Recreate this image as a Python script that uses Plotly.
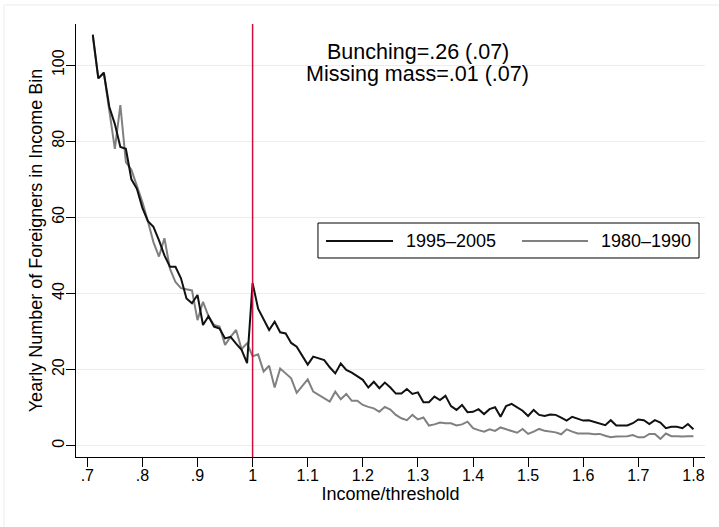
import plotly.graph_objects as go

# ---------------- data ----------------
income_bins = [round(0.71 + 0.01 * i, 2) for i in range(110)]

series_1995_2005 = [
    108, 96.5, 98, 89, 84.5, 78.5, 78, 70, 67.5, 62.5,
    59, 57.5, 54, 50, 47, 47, 44, 38.7, 37.4, 39.6,
    31.7, 34, 31.3, 30.8, 28.2, 28.6, 26.8, 25.2, 21.7,
    42.7, 36, 33, 30.4, 32.6, 29.8, 29.5, 27, 26, 23.5,
    21.3, 23.4, 23, 22.5, 20.6, 19, 21.6, 19.9, 19.2, 18.3,
    17.3, 15.3, 16.8, 15.1, 16.6, 15.3, 13.7, 13.7, 14.9, 13.6,
    14.0, 11.4, 11.4, 12.9, 12.0, 13.1, 10.4, 9.4, 10.7, 8.8,
    8.9, 9.6, 8.3, 9.6, 10.1, 7.6, 10.4, 11.0, 10.0, 9.2,
    7.8, 9.4, 8.1, 7.8, 8.2, 8.1, 7.4, 6.6, 7.6, 7.2,
    6.6, 6.7, 6.3, 5.7, 5.4, 6.7, 5.3, 5.3, 5.3, 5.9,
    6.9, 6.7, 5.7, 6.7, 6.1, 4.6, 5.0, 5.0, 4.6, 5.7,
    4.3,
]

series_1980_1990 = [
    107.5, 96.5, 98, 88, 78, 89.5, 74.5, 72.5, 68.5, 64,
    59, 53.5, 49.7, 54.5, 46.5, 43, 41.4, 41, 40.8, 33,
    37.8, 34, 31.7, 31.3, 26.5, 28.6, 30.4, 25.4, 26.9,
    23.5, 24, 19.5, 21, 15.3, 20.3, 19, 17.7, 13.9, 15.8,
    17.4, 14.2, 13.3, 12.5, 11.6, 14.2, 12.2, 13.6, 11.8, 11.8,
    10.7, 10.2, 9.8, 8.9, 10.2, 9.5, 8.1, 7.2, 6.7, 8.1,
    6.9, 7.4, 5.3, 5.6, 6.1, 5.9, 5.9, 5.3, 5.6, 6.3,
    4.6, 4.1, 3.7, 4.3, 3.9, 4.8, 4.4, 3.9, 3.4, 4.4,
    3.1, 3.7, 4.4, 3.9, 3.7, 3.5, 3.0, 4.3, 3.7, 3.2,
    3.2, 3.2, 3.0, 3.1, 2.6, 2.2, 2.4, 2.5, 2.5, 2.8,
    2.2, 2.2, 3.1, 3.1, 1.8, 3.2, 2.5, 2.5, 2.4, 2.5,
    2.5,
]

series_names = ["1995\u20132005", "1980\u20131990"]
x_tick_vals = [0.7, 0.8, 0.9, 1.0, 1.1, 1.2, 1.3, 1.4, 1.5, 1.6, 1.7, 1.8]
x_tick_text = [".7", ".8", ".9", "1", "1.1", "1.2", "1.3", "1.4", "1.5", "1.6", "1.7", "1.8"]
y_tick_vals = [0, 20, 40, 60, 80, 100]
threshold = 1.0
note_lines = ["Bunching=.26 (.07)", "Missing mass=.01 (.07)"]

FONT = "Liberation Sans, Arial, Helvetica, sans-serif"
BLACK = "#111111"
GRAY = "#808080"
RED = "#d0103a"
GRID = "#e7eef1"

fig = go.Figure()
fig.add_trace(go.Scatter(x=income_bins, y=series_1980_1990, mode="lines",
                         line=dict(color=GRAY, width=2), name=series_names[1],
                         showlegend=False))
fig.add_trace(go.Scatter(x=income_bins, y=series_1995_2005, mode="lines",
                         line=dict(color=BLACK, width=2), name=series_names[0],
                         showlegend=False))

shapes = [
    # outer graph region frame
    dict(type="rect", xref="paper", yref="paper", x0=-0.1145, x1=1.05, y0=-0.2, y1=1.0439,
         line=dict(color=GRID, width=1), fillcolor="rgba(0,0,0,0)", layer="below"),
    # threshold line
    dict(type="line", xref="x", yref="paper", x0=threshold, x1=threshold, y0=0, y1=1,
         line=dict(color=RED, width=1.5), layer="above"),
    # legend box
    dict(type="rect", xref="paper", yref="paper", x0=0.3847, x1=0.9905, y0=0.4596, y1=0.5404,
         line=dict(color="black", width=1), fillcolor="white", layer="above"),
    dict(type="line", xref="paper", yref="paper", x0=0.3975, x1=0.504, y0=0.4988, y1=0.4988,
         line=dict(color=BLACK, width=2), layer="above"),
    dict(type="line", xref="paper", yref="paper", x0=0.709, x1=0.814, y0=0.4988, y1=0.4988,
         line=dict(color=GRAY, width=2), layer="above"),
]

annotations = [
    dict(text=note_lines[0], x=1.3, y=103.5, xref="x", yref="y", showarrow=False,
         xanchor="center", yanchor="middle", font=dict(family=FONT, size=21.5, color="black")),
    dict(text=note_lines[1], x=1.3, y=97.7, xref="x", yref="y", showarrow=False,
         xanchor="center", yanchor="middle", font=dict(family=FONT, size=21.5, color="black")),
    dict(text=series_names[0], x=0.521, y=0.4988, xref="paper", yref="paper", showarrow=False,
         xanchor="left", yanchor="middle", font=dict(family=FONT, size=18, color="black")),
    dict(text=series_names[1], x=0.831, y=0.4988, xref="paper", yref="paper", showarrow=False,
         xanchor="left", yanchor="middle", font=dict(family=FONT, size=18, color="black")),
]

fig.update_layout(
    width=719, height=527,
    margin=dict(l=76, r=14, t=24, b=70, autoexpand=False),
    paper_bgcolor="white", plot_bgcolor="white",
    font=dict(family=FONT, color="black"),
    shapes=shapes, annotations=annotations,
    showlegend=False,
)
fig.update_xaxes(
    range=[0.6795, 1.821], tickvals=x_tick_vals, ticktext=x_tick_text,
    ticks="outside", ticklen=9, tickwidth=1, tickcolor="black",
    showline=True, linecolor="black", linewidth=1, mirror=False,
    showgrid=False, zeroline=False, ticklabelstandoff=-5,
    tickfont=dict(family=FONT, size=16, color="black"),
    title=dict(text="Income/threshold", font=dict(family=FONT, size=18, color="black"), standoff=2),
)
fig.update_yaxes(
    range=[-2.97, 110.8], tickvals=y_tick_vals, tickangle=-90,
    ticks="outside", ticklen=9, tickwidth=1, tickcolor="black",
    showline=True, linecolor="black", linewidth=1, mirror=False,
    showgrid=True, gridcolor=GRID, gridwidth=1, zeroline=False, ticklabelstandoff=-4,
    tickfont=dict(family=FONT, size=16, color="black"),
    title=dict(text="Yearly Number of Foreigners in Income Bin",
               font=dict(family=FONT, size=18, color="black"), standoff=2),
)

fig.write_html("out.html")
